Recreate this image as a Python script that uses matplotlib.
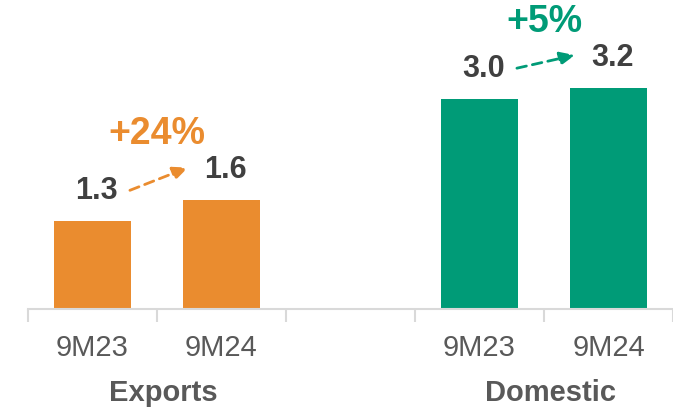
import matplotlib
matplotlib.use("Agg")
import matplotlib.pyplot as plt

plt.rcParams['font.family'] = ['Liberation Sans', 'DejaVu Sans']

groups = ["Exports", "Domestic"]
periods = ["9M23", "9M24"]
exports = [1.28, 1.58]
domestic = [3.05, 3.21]
export_labels = ["1.3", "1.6"]
domestic_labels = ["3.0", "3.2"]
growth = ["+24%", "+5%"]

orange = "#EA8C2F"
green = "#009B77"
dark = "#404040"
gray = "#595959"

fig = plt.figure(figsize=(6.73, 4.10), dpi=100)
ax = fig.add_axes([28/673, 100/410, 645/673, 300/410])

positions = [[0, 1], [3, 4]]
series = [exports, domestic]
labels = [export_labels, domestic_labels]
colors = [orange, green]

for pos, vals, labs, col, g in zip(positions, series, labels, colors, growth):
    ax.bar(pos, vals, width=0.59, color=col, zorder=2)
    for x, v, l in zip(pos, vals, labs):
        ax.annotate(l, (x, v), xytext=(4, 31), textcoords='offset pixels',
                    ha='center', va='center', fontsize=22, fontweight='bold', color=dark)
    ax.annotate("", xy=(pos[1] - 0.26, vals[1] + 0.47), xytext=(pos[0] + 0.29, vals[0] + 0.44),
                arrowprops=dict(arrowstyle='-|>,head_length=0.9,head_width=0.4', color=col,
                                lw=2.0, linestyle=(0, (3.5, 2.2)), shrinkA=0, shrinkB=0))
    ax.text((pos[0] + pos[1]) / 2, max(vals) + 0.97, g, ha='center', va='center',
            fontsize=27, fontweight='bold', color=col)

ax.set_xlim(-0.5, 4.5 - 6/130.2)
ax.set_ylim(0, 300/69)
ax.set_yticks([])
for s in ['top', 'right', 'left']:
    ax.spines[s].set_visible(False)
ax.spines['bottom'].set_color('#D9D9D9')
ax.spines['bottom'].set_linewidth(1.5)

# boundary ticks
ax.set_xticks([-0.5, 0.5, 1.5, 2.5, 3.5, 4.5], minor=False)
ax.tick_params(axis='x', which='major', length=9, width=1.5, color='#D9D9D9', labelbottom=False)
ax.set_xticks([0, 1, 3, 4], minor=True)
ax.set_xticklabels(periods + periods, minor=True)
ax.tick_params(axis='x', which='minor', length=0, pad=17, labelsize=21, labelcolor=gray)

for pos, gname in zip(positions, groups):
    ax.annotate(gname, ((pos[0] + pos[1]) / 2 + 0.05, 0), xytext=(0, -83), textcoords='offset pixels',
                ha='center', va='center', fontsize=21, fontweight='bold', color=gray,
                annotation_clip=False)

fig.savefig("out.png", dpi=100)
